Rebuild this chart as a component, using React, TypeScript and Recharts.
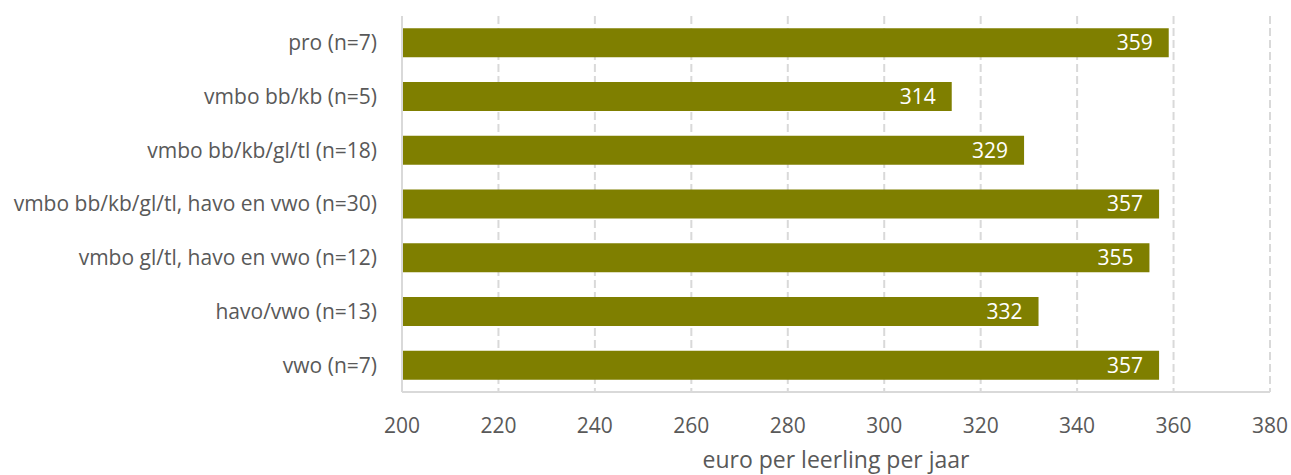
import React from "react";
import {
  BarChart,
  Bar,
  XAxis,
  YAxis,
  CartesianGrid,
  LabelList,
} from "recharts";

const categories = [
  "pro (n=7)",
  "vmbo bb/kb (n=5)",
  "vmbo bb/kb/gl/tl (n=18)",
  "vmbo bb/kb/gl/tl, havo en vwo (n=30)",
  "vmbo gl/tl, havo en vwo (n=12)",
  "havo/vwo (n=13)",
  "vwo (n=7)",
];
const values = [359, 314, 329, 357, 355, 332, 357];
const xTicks = [200, 220, 240, 260, 280, 300, 320, 340, 360, 380];

const data = categories.map((name, i) => ({ name, value: values[i] }));

const FONT = "'Open Sans', sans-serif";

const App: React.FC = () => {
  return (
    <div style={{ position: "absolute", top: 0, left: 0, fontFamily: FONT }}>
      <BarChart
        width={1291}
        height={475}
        data={data}
        layout="vertical"
        margin={{ top: 16, right: 21, bottom: 0, left: 0 }}
        barCategoryGap="23%"
      >
        <CartesianGrid
          horizontal={false}
          stroke="#d9d9d9"
          strokeWidth={2}
          strokeDasharray="8 4"
        />
        <XAxis
          type="number"
          domain={[200, 380]}
          ticks={xTicks}
          allowDataOverflow
          height={83}
          axisLine={{ stroke: "#d9d9d9", strokeWidth: 2 }}
          tickLine={false}
          tick={{ fill: "#595959", fontSize: 21, fontFamily: FONT }}
          tickMargin={20}
          label={{
            value: "euro per leerling per jaar",
            position: "insideBottom",
            offset: 7,
            fill: "#595959",
            fontSize: 23,
            fontFamily: FONT,
          }}
        />
        <YAxis
          type="category"
          dataKey="name"
          width={402}
          axisLine={{ stroke: "#d9d9d9", strokeWidth: 2 }}
          tickLine={false}
          tickMargin={19}
          tick={{ fill: "#595959", fontSize: 21, fontFamily: FONT }}
        />
        <Bar dataKey="value" fill="#7f7f00" isAnimationActive={false}>
          <LabelList
            dataKey="value"
            position="insideRight"
            offset={16}
            fill="#ffffff"
            fontSize={21}
            fontFamily={FONT}
          />
        </Bar>
      </BarChart>
    </div>
  );
};

export default App;
